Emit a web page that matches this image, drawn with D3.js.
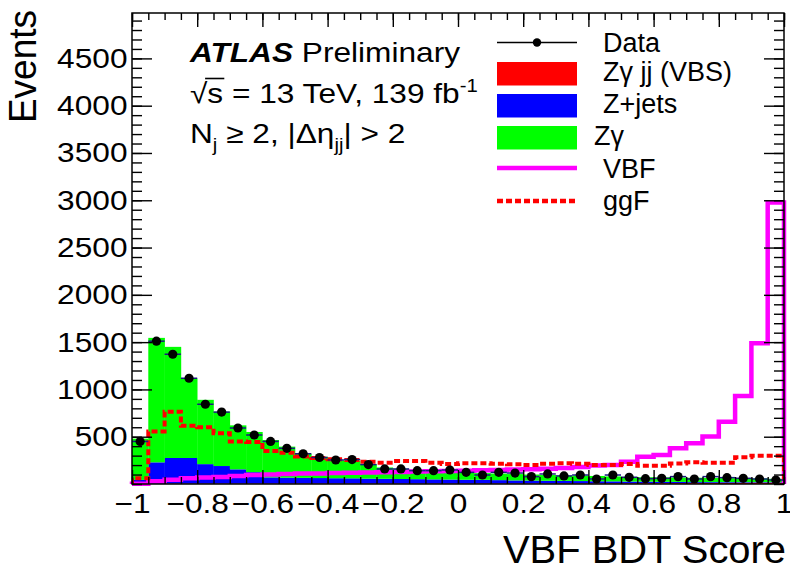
<!DOCTYPE html>
<html>
<head>
<meta charset="utf-8">
<script src="https://cdn.jsdelivr.net/npm/d3@7"></script>
<style>
  html, body { margin: 0; padding: 0; background: #fff; }
  svg { display: block; font-family: "Liberation Sans", Arial, Helvetica, sans-serif; }
</style>
</head>
<body>
<svg id="chart" width="790" height="571"></svg>
<script>
// VBF BDT score distribution, 40 bins of width 0.05 on [-1, 1]
const binLow = d3.range(40).map(i => -1 + i * 0.05);
const binWidth = 0.05;

// Observed events
const dataCounts = [450,1510,1372,1118,843,760,592,518,450,377,320,280,254,258,205,159,159,141,141,148,
                    123,95,123,116,78,106,85,95,53,95,71,56,60,78,53,78,67,60,53,42];

// Stacked backgrounds (bottom to top)
const zgJJ   = [3,4,5,5,5,5,5,5,5,5,5,5,5,5,5,5,5,5,5,5,
                5,6,6,6,6,6,7,7,7,8,8,9,9,10,10,11,12,13,14,15];
const zJets  = [40,225,270,270,205,185,150,120,65,62,60,58,56,55,52,50,48,46,44,42,
                40,38,35,32,30,28,26,24,22,20,18,16,14,12,10,9,8,7,6,5];
const zGamma = [437,1316,1175,840,680,575,465,425,395,328,255,225,189,185,153,120,107,99,93,88,
                80,71,69,67,64,61,57,57,56,52,49,47,47,46,46,44,42,40,38,35];

// Signal shapes (overlaid, not stacked)
const vbf = [2,28,45,60,70,75,85,95,100,105,110,112,115,118,122,125,128,132,135,138,
             140,145,148,152,155,160,168,180,195,201,236,289,307,377,430,501,659,931,1489,2977];
const ggF = [60,555,765,615,600,536,450,445,350,330,292,275,262,255,235,226,243,243,225,212,
             220,220,215,210,200,215,220,215,201,201,212,192,192,218,230,225,225,282,300,300];

const yTickValues = [500,1000,1500,2000,2500,3000,3500,4000,4500];
const xTickValues = [-1,-0.8,-0.6,-0.4,-0.2,0,0.2,0.4,0.6,0.8,1];

const stackKeys = ["zgJJ", "zJets", "zGamma"];
const stackColors = { zgJJ: "#ff0000", zJets: "#0000ff", zGamma: "#00ff00" };

const svg = d3.select("#chart");
const L = 132, R = 784, T = 13, B = 484;
const WIDE = 1.13; // horizontal stretch of the axis and caption lettering

const x = d3.scaleLinear().domain([-1, 1]).range([L, R]);
const y = d3.scaleLinear().domain([0, 4980]).range([B, T]);

const plot = svg.append("g");
svg.append("clipPath").attr("id", "frame")
  .append("rect").attr("x", L).attr("y", T).attr("width", R - L).attr("height", B - T);

// Stacked background histograms
const rows = binLow.map((lo, i) => ({ lo, zgJJ: zgJJ[i], zJets: zJets[i], zGamma: zGamma[i] }));
const series = d3.stack().keys(stackKeys)(rows);
series.forEach(s => {
  plot.append("g").attr("fill", stackColors[s.key])
    .selectAll("rect").data(s).join("rect")
    .attr("x", d => x(d.data.lo))
    .attr("width", d => x(d.data.lo + binWidth) - x(d.data.lo) + 0.3)
    .attr("y", d => y(d[1]))
    .attr("height", d => y(d[0]) - y(d[1]));
});

// Step outline of an unstacked histogram, closed down to zero at both ends
function stepPoints(vals) {
  const pts = [[-1, 0]];
  vals.forEach((v, i) => { pts.push([binLow[i], v]); pts.push([binLow[i] + binWidth, v]); });
  pts.push([1, 0]);
  return pts;
}
const stepLine = d3.line().x(d => x(d[0])).y(d => y(d[1]));

plot.append("path").datum(stepPoints(vbf))
  .attr("d", stepLine).attr("fill", "none")
  .attr("stroke", "#ff00ff").attr("stroke-width", 4.5).attr("stroke-linejoin", "miter");

plot.append("path").datum(stepPoints(ggF))
  .attr("d", stepLine).attr("fill", "none").attr("clip-path", "url(#frame)")
  .attr("stroke", "#ff0000").attr("stroke-width", 4).attr("stroke-dasharray", "6,3");

// Data points with statistical errors
const dataG = plot.append("g");
binLow.forEach((lo, i) => {
  const c = lo + binWidth / 2, n = dataCounts[i], e = Math.sqrt(n);
  dataG.append("line")
    .attr("x1", x(lo)).attr("x2", x(lo + binWidth))
    .attr("y1", y(n)).attr("y2", y(n))
    .attr("stroke", "#1a1a80").attr("stroke-width", 1.5);
  dataG.append("line")
    .attr("x1", x(c)).attr("x2", x(c))
    .attr("y1", y(n - e)).attr("y2", y(n + e))
    .attr("stroke", "#000").attr("stroke-width", 1.5);
  dataG.append("circle")
    .attr("cx", x(c)).attr("cy", y(n)).attr("r", 4.6).attr("fill", "#000");
});

// Axes: ticks point inward on all four sides
const minorX = d3.range(-1, 1.0001, 0.05);
const minorY = d3.range(0, 4980, 100);
function styleAxis(g) {
  g.select(".domain").remove();
  g.selectAll(".tick line").attr("stroke", "#000").attr("stroke-width", 1.4);
}
function styleLabels(g) {
  g.selectAll("text").attr("font-size", 28).attr("fill", "#000").attr("font-family", null)
    .attr("transform", `scale(${WIDE},1)`);
}
const fmtX = d => d === 0 ? "0" : (d < 0 ? "\u2212" + d3.format("")(Math.abs(+d.toFixed(1))) : d3.format("")(+d.toFixed(1)));

svg.append("g").attr("transform", `translate(0,${B})`)
  .call(d3.axisBottom(x).tickValues(minorX).tickFormat("").tickSizeInner(-7).tickSizeOuter(0)).call(styleAxis);
svg.append("g").attr("transform", `translate(0,${B})`)
  .call(d3.axisBottom(x).tickValues(xTickValues).tickFormat(fmtX).tickSizeInner(-14).tickSizeOuter(0).tickPadding(9))
  .call(styleAxis).call(styleLabels);

svg.append("g").attr("transform", `translate(0,${T})`)
  .call(d3.axisTop(x).tickValues(minorX).tickFormat("").tickSizeInner(-7).tickSizeOuter(0)).call(styleAxis);
svg.append("g").attr("transform", `translate(0,${T})`)
  .call(d3.axisTop(x).tickValues(xTickValues).tickFormat("").tickSizeInner(-14).tickSizeOuter(0)).call(styleAxis);

svg.append("g").attr("transform", `translate(${L},0)`)
  .call(d3.axisLeft(y).tickValues(minorY).tickFormat("").tickSizeInner(-10).tickSizeOuter(0)).call(styleAxis);
svg.append("g").attr("transform", `translate(${L},0)`)
  .call(d3.axisLeft(y).tickValues(yTickValues).tickFormat(d3.format("d")).tickSizeInner(-20).tickSizeOuter(0).tickPadding(4))
  .call(styleAxis).call(styleLabels);

svg.append("g").attr("transform", `translate(${R},0)`)
  .call(d3.axisRight(y).tickValues(minorY).tickFormat("").tickSizeInner(-10).tickSizeOuter(0)).call(styleAxis);
svg.append("g").attr("transform", `translate(${R},0)`)
  .call(d3.axisRight(y).tickValues(yTickValues).tickFormat("").tickSizeInner(-20).tickSizeOuter(0)).call(styleAxis);

svg.append("rect").attr("x", L).attr("y", T).attr("width", R - L).attr("height", B - T)
  .attr("fill", "none").attr("stroke", "#000").attr("stroke-width", 1.5);

// Axis titles
svg.append("text").attr("transform", `translate(36,10) rotate(-90) scale(1,1.05)`)
  .attr("text-anchor", "end").attr("font-size", 37).text("Events");
svg.append("g").attr("transform", `translate(786,563) scale(1.05,1)`)
  .append("text").attr("text-anchor", "end").attr("font-size", 38).text("VBF BDT Score");

// Labels
const lab = svg.append("g").attr("transform", `translate(190,0) scale(1.13,1)`)
  .attr("font-size", 28).attr("fill", "#000");
const t1 = lab.append("text").attr("x", 0).attr("y", 62);
t1.append("tspan").attr("font-weight", "bold").attr("font-style", "italic").text("ATLAS");
t1.append("tspan").text(" Preliminary");

const t2 = lab.append("text").attr("x", 0).attr("y", 103);
t2.append("tspan").text("\u221A");
t2.append("tspan").text("s = 13 TeV, 139 fb");
t2.append("tspan").attr("font-size", 18).attr("dy", -11).text("-1");
// bar over the s of the square root
{
  const n = t2.node();
  const r1 = n.getEndPositionOfChar(0).x, s1 = n.getEndPositionOfChar(1).x;
  lab.append("line").attr("x1", r1 - 2).attr("x2", s1 + 1).attr("y1", 78.5).attr("y2", 78.5)
    .attr("stroke", "#000").attr("stroke-width", 1.6);
}

const t3 = lab.append("text").attr("x", 0).attr("y", 143);
t3.append("tspan").text("N");
t3.append("tspan").attr("font-size", 18).attr("dy", 8).text("j");
t3.append("tspan").attr("dy", -8).text(" \u2265 2, |\u0394\u03B7");
t3.append("tspan").attr("font-size", 18).attr("dy", 8).text("jj");
t3.append("tspan").attr("dy", -8).text("| > 2");

// Legend
const leg = svg.append("g").attr("font-size", 27).attr("fill", "#000");
const lx0 = 497, lx1 = 577, tx = 603;
leg.append("line").attr("x1", lx0).attr("x2", lx1).attr("y1", 42.5).attr("y2", 42.5)
  .attr("stroke", "#000").attr("stroke-width", 1.5);
leg.append("circle").attr("cx", (lx0 + lx1) / 2).attr("cy", 42.5).attr("r", 4.2).attr("fill", "#000");
leg.append("text").attr("x", tx).attr("y", 52).text("Data");

const boxes = [
  { key: "zgJJ", y: 62, label: "Z\u03B3 jj (VBS)", tx: tx },
  { key: "zJets", y: 94, label: "Z+jets", tx: tx },
  { key: "zGamma", y: 126, label: "Z\u03B3", tx: 594 }
];
boxes.forEach(b => {
  leg.append("rect").attr("x", lx0).attr("y", b.y).attr("width", lx1 - lx0).attr("height", 23.5)
    .attr("fill", stackColors[b.key]);
  leg.append("text").attr("x", b.tx).attr("y", b.y + 19).text(b.label);
});
leg.append("line").attr("x1", lx0).attr("x2", lx1).attr("y1", 168).attr("y2", 168)
  .attr("stroke", "#ff00ff").attr("stroke-width", 4.5);
leg.append("text").attr("x", tx).attr("y", 178).text("VBF");
leg.append("line").attr("x1", lx0).attr("x2", lx1).attr("y1", 201).attr("y2", 201)
  .attr("stroke", "#ff0000").attr("stroke-width", 4.5).attr("stroke-dasharray", "6,3");
leg.append("text").attr("x", tx).attr("y", 210).text("ggF");
</script>
</body>
</html>
